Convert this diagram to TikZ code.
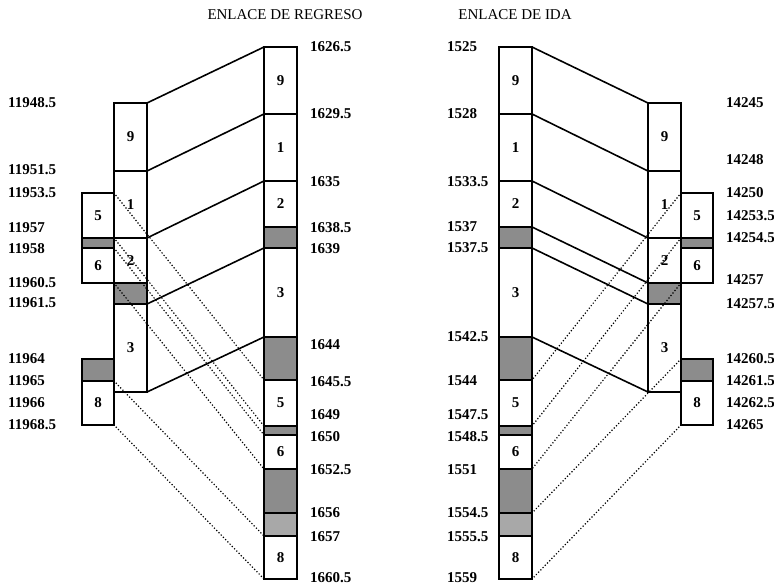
\documentclass[tikz,border=0pt]{standalone}
\usepackage{fontspec}
\setmainfont{Liberation Serif}
\usetikzlibrary{positioning}
\definecolor{segshade}{gray}{0.55}
\definecolor{seglight}{gray}{0.66}

\begin{document}
\begin{tikzpicture}[x=1pt, y=-1pt, font=\fontsize{15}{17}\selectfont\bfseries]
  \tikzstyle{seg}=[draw,line width=1.2pt,inner sep=0pt,outer sep=0pt,minimum width=33pt]
  \tikzstyle{shade}=[seg,fill=segshade]
  \tikzstyle{light}=[seg,fill=seglight]
  \tikzstyle{side}=[seg,minimum width=32pt]
  \tikzstyle{sideshade}=[side,fill=segshade]
  \tikzstyle{num}=[anchor=west,inner sep=0pt]
  \tikzstyle{title}=[font=\fontsize{15}{17}\selectfont\mdseries]
  \tikzstyle{link}=[line width=1.6pt]
  \tikzstyle{map}=[line width=1.7pt,line cap=round,dash pattern=on 0pt off 3.2pt]
  \useasboundingbox (0,0) rectangle (774,587);

  % enlace de regreso
  \node[title] (tregreso) at (285,15) {ENLACE DE REGRESO};
  \node[seg,anchor=north west,minimum height=68pt] (l9) at (114,103) {9};
  \node[seg,below=0pt of l9,minimum height=67pt] (l1) {1};
  \node[seg,below=0pt of l1,minimum height=45pt] (l2) {2};
  \node[shade,below=0pt of l2,minimum height=21pt] (lg) {};
  \node[seg,below=0pt of lg,minimum height=88pt] (l3) {3};
  \node[side,anchor=north west,minimum height=45pt] (s5) at (82,193) {5};
  \node[sideshade,below=0pt of s5,minimum height=10pt] (sg1) {};
  \node[side,below=0pt of sg1,minimum height=35pt] (s6) {6};
  \node[sideshade,anchor=north west,minimum height=22pt] (sg2) at (82,359) {};
  \node[side,below=0pt of sg2,minimum height=44pt] (s8) {8};
  \node[seg,anchor=north west,minimum height=67pt] (r9) at (264,47) {9};
  \node[seg,below=0pt of r9,minimum height=67pt] (r1) {1};
  \node[seg,below=0pt of r1,minimum height=46pt] (r2) {2};
  \node[shade,below=0pt of r2,minimum height=21pt] (rg1) {};
  \node[seg,below=0pt of rg1,minimum height=89pt] (r3) {3};
  \node[shade,below=0pt of r3,minimum height=43pt] (rg2) {};
  \node[seg,below=0pt of rg2,minimum height=46pt] (r5) {5};
  \node[shade,below=0pt of r5,minimum height=9pt] (rg3) {};
  \node[seg,below=0pt of rg3,minimum height=34pt] (r6) {6};
  \node[shade,below=0pt of r6,minimum height=44pt] (rg4) {};
  \node[light,below=0pt of rg4,minimum height=23pt] (rg5) {};
  \node[seg,below=0pt of rg5,minimum height=43pt] (r8) {8};

  \node[num] (n11948) at (8,103) {11948.5};
  \node[num] (n11951) at (8,170) {11951.5};
  \node[num] (n11953) at (8,193) {11953.5};
  \node[num] (n11957) at (8,228) {11957};
  \node[num] (n11958) at (8,249) {11958};
  \node[num] (n11960) at (8,283) {11960.5};
  \node[num] (n11961) at (8,303) {11961.5};
  \node[num] (n11964) at (8,359) {11964};
  \node[num] (n11965) at (8,381) {11965};
  \node[num] (n11966) at (8,403) {11966};
  \node[num] (n11968) at (8,425) {11968.5};

  \node[num] (n1626) at (310,47) {1626.5};
  \node[num] (n1629) at (310,114) {1629.5};
  \node[num] (n1635) at (310,182) {1635};
  \node[num] (n1638) at (310,228) {1638.5};
  \node[num] (n1639) at (310,249) {1639};
  \node[num] (n1644) at (310,345) {1644};
  \node[num] (n1645) at (310,382) {1645.5};
  \node[num] (n1649) at (310,415) {1649};
  \node[num] (n1650) at (310,437) {1650};
  \node[num] (n1652) at (310,470) {1652.5};
  \node[num] (n1656) at (310,513) {1656};
  \node[num] (n1657) at (310,537) {1657};
  \node[num] (n1660) at (310,578) {1660.5};

  \draw[link] (l9.north east) -- (r9.north west);
  \draw[link] (l1.north east) -- (r1.north west);
  \draw[link] (l2.north east) -- (r2.north west);
  \draw[link] (l3.north east) -- (r3.north west);
  \draw[link] (l3.south east) -- (r3.south west);
  \draw[map] (s5.north east) -- (r5.north west);
  \draw[map] (s5.south east) -- (r5.south west);
  \draw[map] (s6.north east) -- (r6.north west);
  \draw[map] (s6.south east) -- (r6.south west);
  \draw[map] (s8.north east) -- (r8.north west);
  \draw[map] (s8.south east) -- (r8.south west);

  % enlace de ida
  \node[title] (tida) at (515,15) {ENLACE DE IDA};
  \node[seg,anchor=north west,minimum height=67pt] (a9) at (499,47) {9};
  \node[seg,below=0pt of a9,minimum height=67pt] (a1) {1};
  \node[seg,below=0pt of a1,minimum height=46pt] (a2) {2};
  \node[shade,below=0pt of a2,minimum height=21pt] (ag1) {};
  \node[seg,below=0pt of ag1,minimum height=89pt] (a3) {3};
  \node[shade,below=0pt of a3,minimum height=43pt] (ag2) {};
  \node[seg,below=0pt of ag2,minimum height=46pt] (a5) {5};
  \node[shade,below=0pt of a5,minimum height=9pt] (ag3) {};
  \node[seg,below=0pt of ag3,minimum height=34pt] (a6) {6};
  \node[shade,below=0pt of a6,minimum height=44pt] (ag4) {};
  \node[light,below=0pt of ag4,minimum height=23pt] (ag5) {};
  \node[seg,below=0pt of ag5,minimum height=43pt] (a8) {8};
  \node[seg,anchor=north west,minimum height=68pt] (b9) at (648,103) {9};
  \node[seg,below=0pt of b9,minimum height=67pt] (b1) {1};
  \node[seg,below=0pt of b1,minimum height=45pt] (b2) {2};
  \node[shade,below=0pt of b2,minimum height=21pt] (bg) {};
  \node[seg,below=0pt of bg,minimum height=88pt] (b3) {3};
  \node[side,anchor=north west,minimum height=45pt] (t5) at (681,193) {5};
  \node[sideshade,below=0pt of t5,minimum height=10pt] (tg1) {};
  \node[side,below=0pt of tg1,minimum height=35pt] (t6) {6};
  \node[sideshade,anchor=north west,minimum height=22pt] (tg2) at (681,359) {};
  \node[side,below=0pt of tg2,minimum height=44pt] (t8) {8};

  \node[num] (n1525) at (447,47) {1525};
  \node[num] (n1528) at (447,114) {1528};
  \node[num] (n1533) at (447,182) {1533.5};
  \node[num] (n1537) at (447,227) {1537};
  \node[num] (n1537b) at (447,248) {1537.5};
  \node[num] (n1542) at (447,337) {1542.5};
  \node[num] (n1544) at (447,381) {1544};
  \node[num] (n1547) at (447,415) {1547.5};
  \node[num] (n1548) at (447,437) {1548.5};
  \node[num] (n1551) at (447,470) {1551};
  \node[num] (n1554) at (447,513) {1554.5};
  \node[num] (n1555) at (447,537) {1555.5};
  \node[num] (n1559) at (447,578) {1559};

  \node[num] (n14245) at (726,103) {14245};
  \node[num] (n14248) at (726,160) {14248};
  \node[num] (n14250) at (726,193) {14250};
  \node[num] (n14253) at (726,216) {14253.5};
  \node[num] (n14254) at (726,238) {14254.5};
  \node[num] (n14257) at (726,280) {14257};
  \node[num] (n14257b) at (726,304) {14257.5};
  \node[num] (n14260) at (726,359) {14260.5};
  \node[num] (n14261) at (726,381) {14261.5};
  \node[num] (n14262) at (726,403) {14262.5};
  \node[num] (n14265) at (726,425) {14265};

  \draw[link] (a9.north east) -- (b9.north west);
  \draw[link] (a1.north east) -- (b1.north west);
  \draw[link] (a2.north east) -- (b2.north west);
  \draw[link] (ag1.north east) -- (bg.north west);
  \draw[link] (a3.north east) -- (b3.north west);
  \draw[link] (a3.south east) -- (b3.south west);
  \draw[map] (t5.north west) -- (a5.north east);
  \draw[map] (t5.south west) -- (a5.south east);
  \draw[map] (t6.south west) -- (a6.south east);
  \draw[map] (tg2.north west) -- (ag5.north east);
  \draw[map] (t8.south west) -- (a8.south east);
\end{tikzpicture}
\end{document}
